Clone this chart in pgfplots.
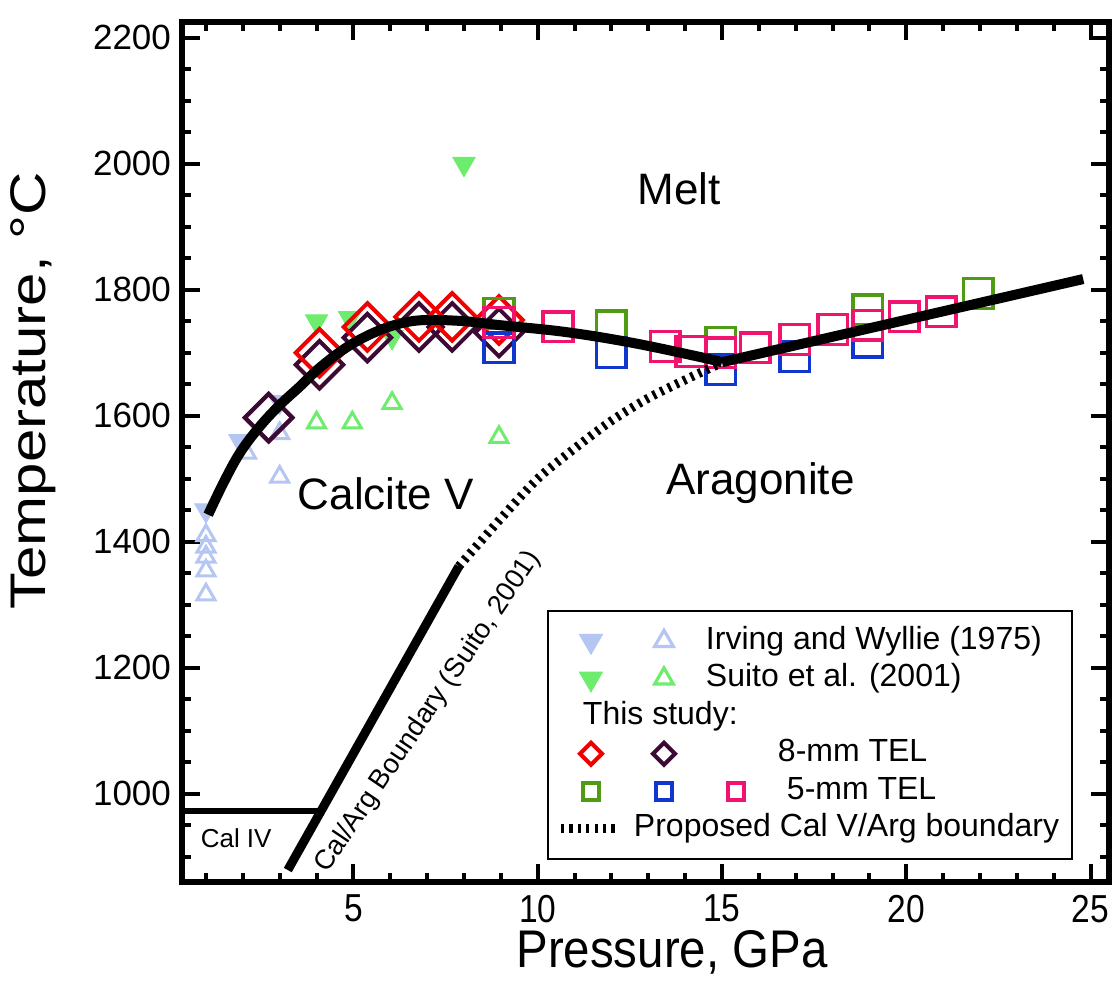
\documentclass[border=0pt]{standalone}
\usepackage{fontspec}
\setmainfont{Liberation Sans}
\newfontfamily\ylabfont[FakeStretch=1.2]{Liberation Sans}
\newfontfamily\xlabfont[FakeStretch=0.895]{Liberation Sans}
\newfontfamily\xtickfont[FakeStretch=0.86]{Liberation Sans}
\usepackage{pgfplots}
\pgfplotsset{compat=1.18}

\definecolor{irv}{RGB}{182,198,242}
\definecolor{sui}{RGB}{110,236,110}
\definecolor{redd}{RGB}{240,0,0}
\definecolor{plum}{RGB}{60,10,50}
\definecolor{sqgreen}{RGB}{80,155,20}
\definecolor{sqblue}{RGB}{15,55,205}
\definecolor{sqpink}{RGB}{240,20,110}

% strut giving every legend line the same height and depth
\newcommand\ls{\rule[-3.4pt]{0pt}{14.9pt}}

\begin{document}
\begin{tikzpicture}
\begin{axis}[
  scale only axis,
  width=463.5pt, height=430pt,
  xmin=0.35, xmax=25.5, ymin=860, ymax=2225,
  xtick={5,10,15,20,25}, minor xtick={1,...,25},
  ytick={1000,1200,...,2200}, minor ytick={900,950,...,2200},
  tick align=inside,
  major tick length=9pt, minor tick length=4.5pt,
  tick style={black, line width=2pt},
  axis line style={line width=2.8pt},
  /pgf/number format/assume math mode=true,
  /pgf/number format/1000 sep={},
  yticklabel style={font=\fontsize{17.5}{19}\selectfont, xshift=-2pt},
  xticklabel style={font=\xtickfont\fontsize{19.5}{21}\selectfont, yshift=-3pt},
  xlabel={Pressure, GPa},
  xlabel style={font=\xlabfont\fontsize{26.5}{29}\selectfont, at={(rel axis cs:0.5286,-0.0814)}, anchor=center},
  ylabel={Temperature, °C},
  ylabel style={font=\ylabfont\fontsize{25}{28}\selectfont, at={(rel axis cs:-0.1607,0.571)}, anchor=center},
  clip mode=individual,
  legend cell align=left,
  legend style={
    at={(rel axis cs:0.3937,0.3163)}, anchor=north west,
    draw=black, line width=1pt, fill=white,
    inner xsep=6.5pt, inner ysep=7.55pt,
    row sep=3.8pt, column sep=0pt,
    nodes={inner sep=0pt, text depth=, font=\fontsize{16}{19}\selectfont},
    cells={anchor=west},
  },
]

% ---- Irving and Wyllie (1975)
\addplot[forget plot, only marks, mark=triangle*, mark size=6.4pt, irv,
  mark options={rotate=180, fill=irv, draw=irv, line width=0.5pt}]
  coordinates {(1.0,1450) (1.92,1560) (3.0,1622)};
\addplot[forget plot, only marks, mark=triangle, mark size=5.2pt, irv,
  mark options={line width=1.5pt}]
  coordinates {(1.0,1410) (1.0,1392) (1.0,1376) (1.0,1354) (1.0,1316)
               (2.1,1541) (3.0,1572) (3.0,1503)};

% ---- Suito et al. (2001)
\addplot[forget plot, only marks, mark=triangle*, mark size=6.4pt, sui,
  mark options={rotate=180, fill=sui, draw=sui, line width=0.5pt}]
  coordinates {(4.0,1750) (4.9,1755) (6.05,1725) (8.0,2000)};
\addplot[forget plot, only marks, mark=triangle, mark size=5.2pt, sui,
  mark options={line width=1.5pt}]
  coordinates {(4.0,1589) (4.97,1589) (6.05,1620) (8.95,1566)};

% ---- this study, 8-mm TEL
\addplot[forget plot, only marks, mark=square, mark size=8.4pt, plum,
  mark options={rotate=45, line width=2pt}]
  coordinates {(2.7,1597) (4.08,1681) (5.38,1724) (6.78,1741) (7.68,1741) (8.95,1732)};
\addplot[forget plot, only marks, mark=square, mark size=8.4pt, redd,
  mark options={rotate=45, line width=2pt}]
  coordinates {(4.08,1700) (5.38,1741) (6.78,1757) (7.68,1757) (8.95,1752)};
\addplot[forget plot, only marks, mark=square, mark size=8.4pt, plum,
  mark options={rotate=45, line width=2pt}]
  coordinates {(2.7,1597)};

% ---- this study, 5-mm TEL
\addplot[forget plot, only marks, mark=square, mark size=7.4pt, sqgreen,
  mark options={line width=1.75pt}]
  coordinates {(8.95,1763) (12.0,1743) (14.97,1717) (18.95,1768) (21.95,1794)};
\addplot[forget plot, only marks, mark=square, mark size=7.4pt, sqblue,
  mark options={line width=1.75pt}]
  coordinates {(8.95,1708) (12.0,1700) (14.97,1673) (16.97,1694) (18.95,1717)};
\addplot[forget plot, only marks, mark=square, mark size=7.4pt, sqpink,
  mark options={line width=1.75pt}]
  coordinates {(8.95,1748) (10.55,1741) (13.46,1710) (14.16,1702) (14.97,1700)
               (15.9,1708) (16.97,1721) (18.0,1737) (18.95,1744) (19.95,1757) (20.95,1765)};

% ---- phase boundaries
\addplot[forget plot, black, line width=5pt, smooth, tension=0.6] coordinates {
  (1.06,1443) (1.47,1493) (1.92,1541) (2.46,1583) (3.0,1617) (3.54,1646)
  (4.08,1676) (4.8,1708) (5.52,1731) (6.24,1746) (6.96,1752) (8.04,1750)
  (8.95,1744) (10.75,1733) (12.55,1716) (14.35,1694) (15.0,1685)};
\addplot[forget plot, black, line width=5pt] coordinates {(15.0,1685) (24.8,1817)};
\addplot[forget plot, black, line width=4.5pt] coordinates {(3.22,879) (7.86,1361)};
\addplot[forget plot, black, line width=3pt] coordinates {(0.35,972) (4.04,972)};
\addplot[forget plot, black, line width=4.5pt, dash pattern=on 1.6pt off 2.6pt, smooth]
  coordinates {(7.86,1361) (9.0,1437) (10.0,1500) (11.0,1548) (12.0,1592)
               (13.0,1628) (14.0,1657) (14.95,1683)};

% ---- field names
\node[font=\fontsize{22}{24}\selectfont, anchor=base] at (axis cs:13.84,1935) {Melt};
\node[font=\fontsize{22}{24}\selectfont, anchor=base] at (axis cs:5.88,1451) {Calcite V};
\node[font=\fontsize{22}{24}\selectfont, anchor=base] at (axis cs:16.04,1475) {Aragonite};
\node[font=\fontsize{13}{15}\selectfont, anchor=base] at (axis cs:1.82,914) {Cal IV};
\node[font=\fontsize{13.7}{15}\selectfont, rotate=56] at (axis cs:7.03,1130)
  {Cal/Arg Boundary (Suito, 2001)};

% ---- legend
\addlegendimage{legend image code/.code={
  \path[draw=none, fill=none] (0pt,-0.25pt) rectangle (0.5pt,0.25pt);
  \draw[overlay, irv, fill=irv, line width=0.5pt] plot[only marks, mark=triangle*, mark size=6.6pt, mark options={rotate=180}] coordinates {(15pt,0pt)};
  \draw[overlay, irv, line width=1.6pt] plot[only marks, mark=triangle, mark size=5.4pt] coordinates {(51.5pt,0pt)};
}}
\addlegendentry{\hspace*{72pt}Irving and Wyllie (1975)\ls}
\addlegendimage{legend image code/.code={
  \path[draw=none, fill=none] (0pt,-0.25pt) rectangle (0.5pt,0.25pt);
  \draw[overlay, sui, fill=sui, line width=0.5pt] plot[only marks, mark=triangle*, mark size=6.6pt, mark options={rotate=180}] coordinates {(15pt,0pt)};
  \draw[overlay, sui, line width=1.6pt] plot[only marks, mark=triangle, mark size=5.4pt] coordinates {(51.5pt,0pt)};
}}
\addlegendentry{\hspace*{72pt}Suito et al. (2001)\ls}
\addlegendimage{empty legend}
\addlegendentry{\hspace*{10.5pt}This study:\ls}
\addlegendimage{legend image code/.code={
  \path[draw=none, fill=none] (0pt,-0.25pt) rectangle (0.5pt,0.25pt);
  \draw[overlay, redd, line width=2pt] plot[only marks, mark=square, mark size=3.9pt, mark options={rotate=45}] coordinates {(15pt,0pt)};
  \draw[overlay, plum, line width=2pt] plot[only marks, mark=square, mark size=3.9pt, mark options={rotate=45}] coordinates {(51.5pt,0pt)};
}}
\addlegendentry{\hspace*{108pt}8-mm TEL\ls}
\addlegendimage{legend image code/.code={
  \path[draw=none, fill=none] (0pt,-0.25pt) rectangle (0.5pt,0.25pt);
  \draw[overlay, sqgreen, line width=2pt] plot[only marks, mark=square, mark size=4.2pt] coordinates {(15pt,0pt)};
  \draw[overlay, sqblue, line width=2pt] plot[only marks, mark=square, mark size=4.2pt] coordinates {(51.5pt,0pt)};
  \draw[overlay, sqpink, line width=2pt] plot[only marks, mark=square, mark size=4.2pt] coordinates {(87.5pt,0pt)};
}}
\addlegendentry{\hspace*{112.5pt}5-mm TEL\ls}
\addlegendimage{legend image code/.code={
  \path[draw=none, fill=none] (0pt,-0.25pt) rectangle (0.5pt,0.25pt);
  \draw[overlay, black, line width=4.5pt, dash pattern=on 1.6pt off 2.6pt] (0pt,0pt) -- (29pt,0pt);
}}
\addlegendentry{\hspace*{36pt}Proposed Cal V/Arg boundary\ls}
\end{axis}
\coordinate (bbA) at ([shift={(-91pt,-52pt)}]current axis.south west);
\coordinate (bbB) at ([shift={(4pt,11pt)}]current axis.north east);
\pgfresetboundingbox
\path[use as bounding box] (bbA) rectangle (bbB);
\end{tikzpicture}
\end{document}
